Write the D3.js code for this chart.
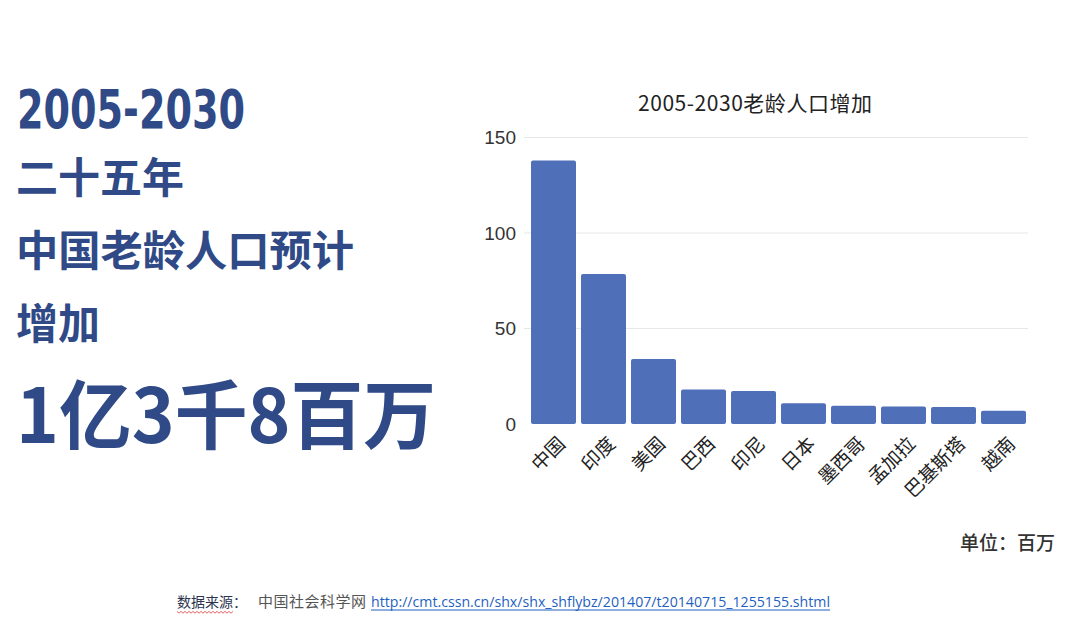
<!DOCTYPE html>
<html>
<head>
<meta charset="utf-8">
<script src="https://cdn.jsdelivr.net/npm/d3@7"></script>
<style>
  body { margin: 0; background: #fff; }
  svg { display: block; }
</style>
</head>
<body>
<div id="chart"></div>
<script>
    // data: 2005-2030 ageing population increase, millions
    var countries = ["中国", "印度", "美国", "巴西", "印尼", "日本", "墨西哥", "孟加拉", "巴基斯塔", "越南"]
    var increase = [138, 78.5, 34, 18, 17.3, 10.8, 9.5, 9.2, 8.9, 7]
    var yTicks = [0, 50, 100, 150]

    var width = 1080
    var height = 629
    var textBlue = "#2f4a87"
    var cjk = "'Noto Sans CJK SC', 'Noto Sans', sans-serif"

    var svg = d3.select("#chart")
      .append("svg")
      .attr("width", width)
      .attr("height", height)

    // left headline block
    var head = svg.append("g").attr("fill", textBlue).attr("font-weight", "bold")
    head.append("text")
        .attr("x", 17).attr("y", 128)
        .attr("font-family", "'Liberation Sans Narrow', 'DejaVu Sans Condensed', sans-serif")
        .attr("font-size", 53)
        .attr("textLength", 228).attr("lengthAdjust", "spacingAndGlyphs")
        .text("2005-2030")
    var lines = [
        {t: "二十五年", y: 193, size: 42, w: 168},
        {t: "中国老龄人口预计", y: 266, size: 42, w: 338},
        {t: "增加", y: 339, size: 42, w: 84},
        {t: "1亿3千8百万", y: 443, size: 75, w: 420}
    ]
    lines.forEach(function(d) {
        head.append("text")
            .attr("x", 16).attr("y", d.y)
            .attr("font-family", cjk)
            .attr("font-size", d.size)
            .attr("textLength", d.w).attr("lengthAdjust", "spacingAndGlyphs")
            .text(d.t)
    })

    // bar chart
    var x = d3.scaleBand()
        .domain(countries)
        .range([526, 1031])
        .paddingInner(0.1)
        .paddingOuter(0.1)

    var y = d3.scaleLinear()
        .domain([0, 150])
        .range([424, 137.5])

    var chart = svg.append("g")

    // gridlines
    chart.append("g")
        .selectAll("line")
        .data(yTicks.filter(d => d > 0))
        .join("line")
          .attr("x1", 524).attr("x2", 1028)
          .attr("y1", d => y(d)).attr("y2", d => y(d))
          .attr("stroke", "#e8e8e8")
          .attr("stroke-width", 1.2)

    // y axis labels
    var yAxis = chart.append("g")
        .attr("transform", "translate(516,0)")
        .call(d3.axisLeft(y).tickValues(yTicks).tickSize(0).tickPadding(0))
    yAxis.select(".domain").remove()
    yAxis.selectAll("text")
        .attr("font-family", "'Liberation Sans', Arial, sans-serif")
        .attr("font-size", 19)
        .attr("fill", "#333")

    // bars
    chart.append("g")
        .selectAll("rect")
        .data(countries)
        .join("rect")
          .attr("x", d => x(d))
          .attr("width", x.bandwidth())
          .attr("y", (d, i) => y(increase[i]))
          .attr("height", (d, i) => y(0) - y(increase[i]))
          .attr("rx", 2)
          .attr("fill", "#4f6fb8")

    // x axis labels, rotated
    var xAxis = chart.append("g")
        .attr("transform", "translate(0,424)")
        .call(d3.axisBottom(x).tickSize(0).tickPadding(0))
    xAxis.select(".domain").remove()
    xAxis.selectAll("text")
        .attr("font-family", cjk)
        .attr("font-size", 19)
        .attr("fill", "#222")
        .attr("text-anchor", "end")
        .attr("dy", null)
        .attr("transform", "translate(13,21) rotate(-45)")

    // chart title
    svg.append("text")
        .attr("x", 755).attr("y", 111)
        .attr("text-anchor", "middle")
        .attr("font-family", cjk)
        .attr("font-size", 21)
        .attr("fill", "#222")
        .attr("textLength", 234)
        .text("2005-2030老龄人口增加")

    // unit note
    svg.append("text")
        .attr("x", 1055).attr("y", 550)
        .attr("text-anchor", "end")
        .attr("font-family", cjk)
        .attr("font-size", 19)
        .attr("font-weight", 500)
        .attr("fill", "#333")
        .text("单位：百万")

    // source line
    var src = svg.append("g").attr("font-family", cjk).attr("font-size", 14)
    src.append("text")
        .attr("x", 177).attr("y", 607)
        .attr("fill", "#2c3550")
        .text("数据来源：")
    // spell-check squiggle under 数据来源
    var squig = d3.range(0, 58, 2).map((d, i) => [177 + d, 612 + (i % 2 ? 1.2 : -0.6)])
    src.append("path")
        .attr("d", d3.line()(squig))
        .attr("fill", "none")
        .attr("stroke", "#e05050")
        .attr("stroke-width", 0.9)
    src.append("text")
        .attr("x", 258).attr("y", 607)
        .attr("fill", "#555")
        .attr("font-size", 15)
        .attr("textLength", 108)
        .text("中国社会科学网")
    src.append("text")
        .attr("x", 371).attr("y", 607)
        .attr("fill", "#1f5fc0")
        .attr("font-family", "'Open Sans', 'Liberation Sans', sans-serif")
        .attr("font-size", 14)
        .attr("textLength", 459).attr("lengthAdjust", "spacingAndGlyphs")
        .text("http://cmt.cssn.cn/shx/shx_shflybz/201407/t20140715_1255155.shtml")
    src.append("line")
        .attr("x1", 371).attr("x2", 830)
        .attr("y1", 610).attr("y2", 610)
        .attr("stroke", "#1f5fc0")
        .attr("stroke-width", 1)
</script>
</body>
</html>
